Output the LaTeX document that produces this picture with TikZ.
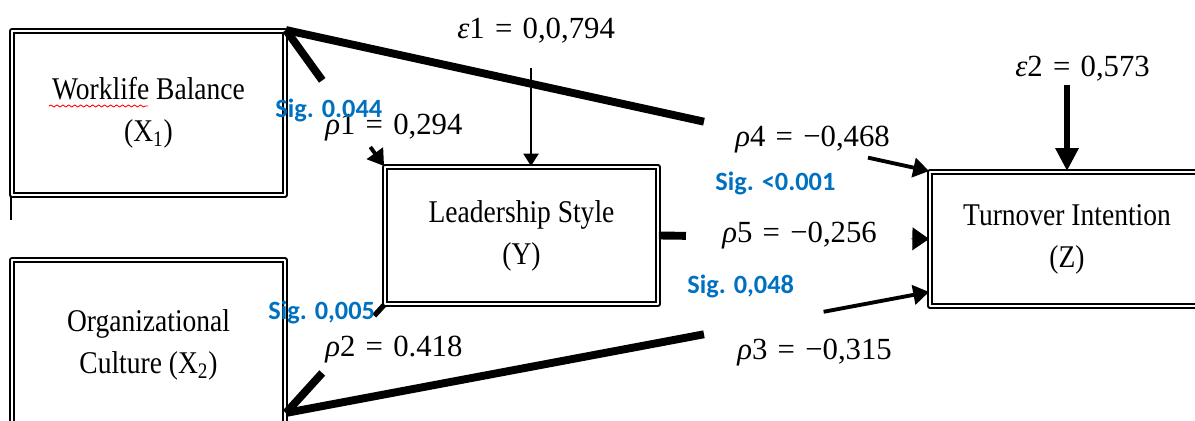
\documentclass[tikz,border=0pt]{standalone}
\usepackage{fontspec}
\setmainfont{Liberation Serif}[FakeStretch=0.87]
\newfontfamily\eqfont{Liberation Serif}
\newfontfamily\sigfont{Carlito}
\usetikzlibrary{arrows.meta,calc,decorations.pathmorphing}

\begin{document}
\begin{tikzpicture}[x=0.02cm, y=-0.02cm, line join=round,
        box/.style={draw, double, line width=1.1pt, double distance=1.3pt, align=center,
            inner sep=0pt, font=\fontsize{18}{24}\selectfont},
        bar/.style={line width=4.5pt},
        tipbar/.style={line width=2.2pt, -{Triangle[length=9pt,width=11pt]}},
        coef/.style={anchor=base west, inner sep=0pt, font=\eqfont\fontsize{17.5}{20}\selectfont},
        sig/.style={anchor=base west, inner sep=0pt, text=sigblue,
            font=\sigfont\bfseries\fontsize{15}{18}\selectfont}]
        \definecolor{sigblue}{RGB}{0,112,192}

        \useasboundingbox (0,0) rectangle (1195,421);
        \clip (0,0) rectangle (1195,421);

        \node[box, minimum width=5.46cm, minimum height=3.28cm] (wlb) at (148.5,113) {Worklife Balance\\(X\textsubscript{1})};
        \node[box, minimum width=5.46cm, minimum height=3.4cm] (orgc) at (148.5,345) {Organizational\\Culture (X\textsubscript{2})};
        \node[box, minimum width=5.46cm, minimum height=2.74cm] (lead) at (521.5,235.5) {Leadership Style\\(Y)};
        \node[box, minimum width=5.48cm, minimum height=2.68cm] (turn) at (1067,239) {Turnover Intention\\(Z)};

        \draw[red, line width=0.5pt, decorate, decoration={snake, amplitude=0.6pt, segment length=3.4pt}] (49,106) -- (148,106);
        \draw[line width=0.8pt] (wlb.south west) -- ++(0,24);

        \coordinate (orgcout) at ($(orgc.south east)+(0,-18)$);
        \coordinate (turnin) at ($(turn.south west)+(0,-15)$);
        \coordinate (e1top) at (531,68);
        \coordinate (e2top) at (1067,85);

        % paths, partly hidden behind the coefficients
        \draw[bar] (wlb.north east) -- ($(wlb.north east)!0.37!(lead.north west)$);
        \draw[tipbar] ($(wlb.north east)!0.86!(lead.north west)$) -- (lead.north west);
        \draw[bar] (wlb.north east) -- ($(wlb.north east)!0.65!(turn.north west)$);
        \draw[tipbar] ($(wlb.north east)!0.905!(turn.north west)$) -- (turn.north west);
        \draw[bar] (orgcout) -- ($(orgcout)!0.37!(lead.south west)$);
        \draw[line width=3pt] ($(orgcout)!0.9!(lead.south west)$) -- (lead.south west);
        \draw[bar] (orgcout) -- ($(orgcout)!0.65!(turnin)$);
        \draw[tipbar] ($(orgcout)!0.836!(turnin)$) -- (turnin);
        \draw[bar] (lead.east) -- ($(lead.east)!0.1!(turn.west)$);
        \draw[line width=0.6pt, -{Triangle[length=9.5pt,width=13pt]}] ($(lead.east)!0.935!(turn.west)$) -- (turn.west);

        % error terms
        \draw[line width=1.2pt, -{Triangle[length=7pt,width=8.5pt]}] (e1top) -- (e1top |- lead.north);
        \draw[line width=3.6pt, -{Triangle[length=13pt,width=12.5pt]}] (e2top) -- (turn.north);

        \node[coef] (e1lab) at (457,39) {\textit{ε}1\,\,=\,\,0,0,794};
        \node[coef] (e2lab) at (1015,77) {\textit{ε}2\,\,=\,\,0,573};
        \node[coef] (r1lab) at (325,135) {\textit{ρ}1\,\,=\,\,0,294};
        \node[coef] (r2lab) at (325,357) {\textit{ρ}2\,\,=\,\,0.418};
        \node[coef] (r4lab) at (735,147) {\textit{ρ}4\,\,=\,\,−0,468};
        \node[coef] (r5lab) at (722,243) {\textit{ρ}5\,\,=\,\,−0,256};
        \node[coef] (r3lab) at (737,360) {\textit{ρ}3\,\,=\,\,−0,315};

        \node[sig] (s1) at (275,118) {Sig. 0.044};
        \node[sig] (s2) at (268,320) {Sig. 0,005};
        \node[sig] (s4) at (715,191) {Sig. <0.001};
        \node[sig] (s5) at (687,294) {Sig. 0,048};
    \end{tikzpicture}
\end{document}
